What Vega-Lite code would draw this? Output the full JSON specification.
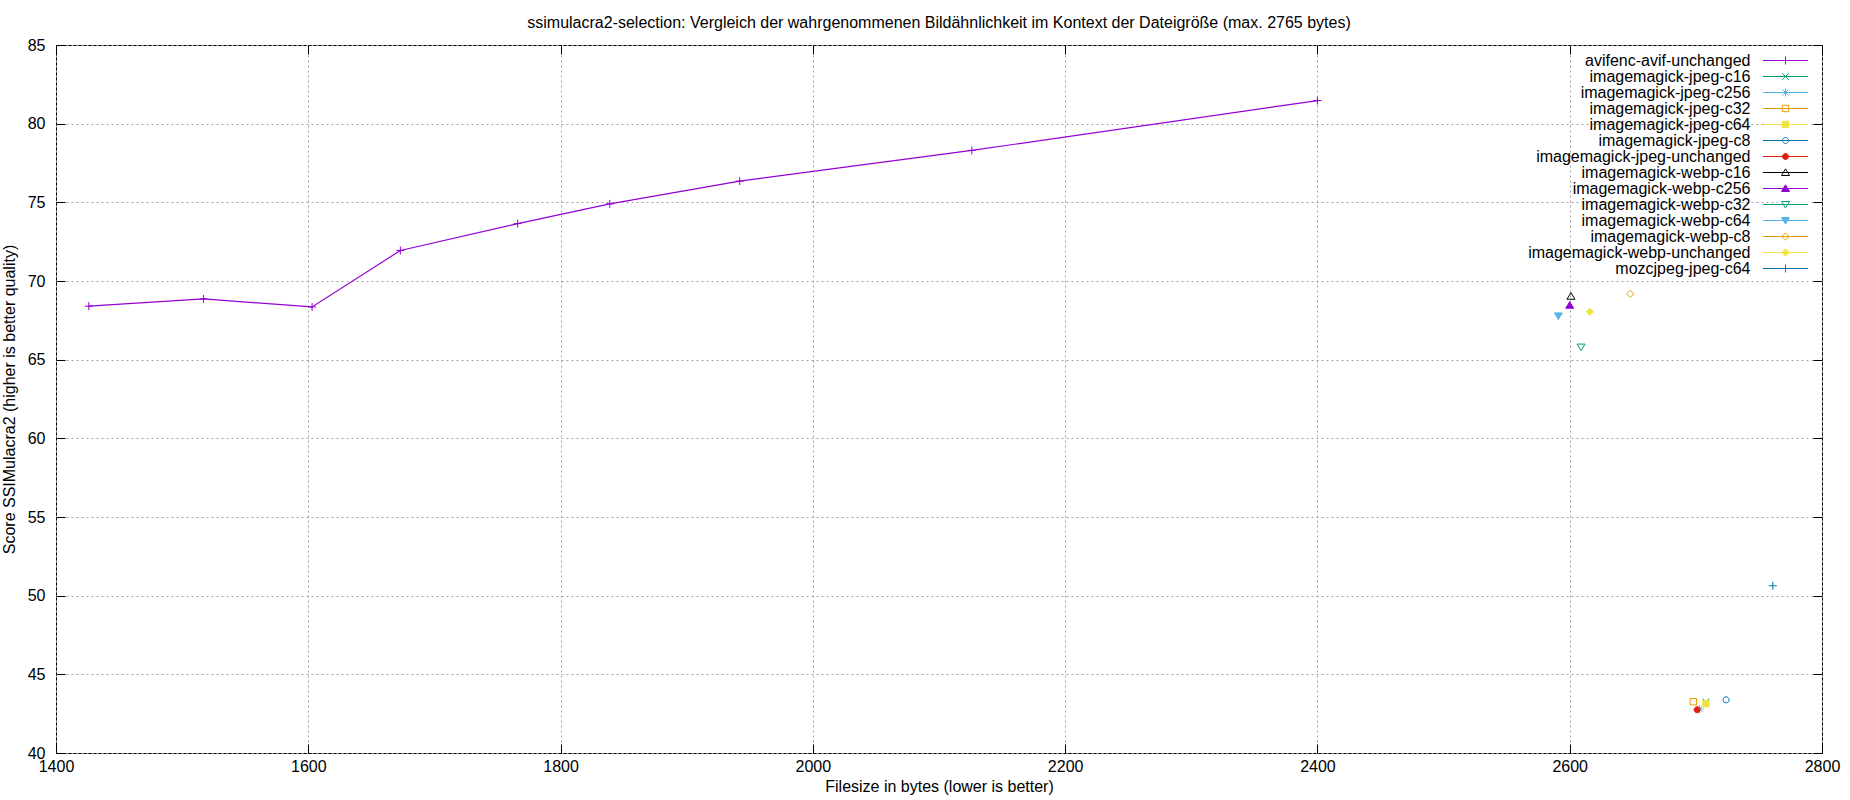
{
  "$schema": "https://vega.github.io/schema/vega-lite/v6.json",
  "width": 1766,
  "height": 708,
  "autosize": {"type": "none"},
  "padding": {"left": 56, "top": 45, "right": 28, "bottom": 47},
  "background": "white",
  "title": {
    "text": "ssimulacra2-selection: Vergleich der wahrgenommenen Bildähnlichkeit im Kontext der Dateigröße (max. 2765 bytes)",
    "font": "Liberation Sans",
    "fontSize": 16,
    "fontWeight": "normal",
    "color": "black",
    "anchor": "middle",
    "frame": "group",
    "offset": 6
  },
  "config": {
    "view": {"stroke": "black", "strokeWidth": 1},
    "font": "Liberation Sans",
    "axis": {
      "domain": false,
      "tickColor": "black",
      "tickSize": -9,
      "tickWidth": 1,
      "labelFlush": false,
      "labelFont": "Liberation Sans",
      "labelFontSize": 16,
      "labelColor": "black",
      "titleFont": "Liberation Sans",
      "titleFontSize": 16,
      "titleFontWeight": "normal",
      "titleColor": "black",
      "gridColor": "#a0a0a0",
      "gridDash": [2, 3],
      "gridWidth": 1
    }
  },
  "datasets": {
    "results": [
      {"series": "avifenc-avif-unchanged", "bytes": 1426, "score": 68.4},
      {"series": "avifenc-avif-unchanged", "bytes": 1517, "score": 68.86},
      {"series": "avifenc-avif-unchanged", "bytes": 1603, "score": 68.35},
      {"series": "avifenc-avif-unchanged", "bytes": 1673, "score": 71.94},
      {"series": "avifenc-avif-unchanged", "bytes": 1766, "score": 73.65},
      {"series": "avifenc-avif-unchanged", "bytes": 1839, "score": 74.9},
      {"series": "avifenc-avif-unchanged", "bytes": 1942, "score": 76.35},
      {"series": "avifenc-avif-unchanged", "bytes": 2126, "score": 78.3},
      {"series": "avifenc-avif-unchanged", "bytes": 2400, "score": 81.47},
      {"series": "imagemagick-jpeg-c16", "bytes": 2708, "score": 43.25},
      {"series": "imagemagick-jpeg-c256", "bytes": 2703, "score": 42.8},
      {"series": "imagemagick-jpeg-c32", "bytes": 2698, "score": 43.26},
      {"series": "imagemagick-jpeg-c64", "bytes": 2708, "score": 43.13},
      {"series": "imagemagick-jpeg-c8", "bytes": 2724, "score": 43.38},
      {"series": "imagemagick-jpeg-unchanged", "bytes": 2701, "score": 42.75},
      {"series": "imagemagick-webp-c16", "bytes": 2601, "score": 69.03},
      {"series": "imagemagick-webp-c256", "bytes": 2600, "score": 68.46},
      {"series": "imagemagick-webp-c32", "bytes": 2609, "score": 65.8},
      {"series": "imagemagick-webp-c64", "bytes": 2591, "score": 67.78},
      {"series": "imagemagick-webp-c8", "bytes": 2648, "score": 69.18},
      {"series": "imagemagick-webp-unchanged", "bytes": 2616, "score": 68.04},
      {"series": "mozcjpeg-jpeg-c64", "bytes": 2761, "score": 50.63}
    ]
  },
  "data": {"name": "results"},
  "resolve": {
    "scale": {"shape": "independent", "stroke": "independent", "fill": "independent"},
    "axis": {"x": "independent", "y": "independent"}
  },
  "layer": [
    {
      "transform": [{"filter": "datum.series === 'avifenc-avif-unchanged'"}],
      "mark": {"type": "line", "color": "#9400d3", "strokeWidth": 1.2},
      "encoding": {
        "x": {
          "field": "bytes",
          "type": "quantitative",
          "scale": {"domain": [1400, 2800], "nice": false, "zero": false},
          "axis": {
            "orient": "bottom",
            "values": [1400, 1600, 1800, 2000, 2200, 2400, 2600, 2800],
            "format": "d",
            "grid": true,
            "labelPadding": 14,
            "titlePadding": 4,
            "title": "Filesize in bytes (lower is better)"
          }
        },
        "y": {
          "field": "score",
          "type": "quantitative",
          "scale": {"domain": [40, 85], "nice": false, "zero": false},
          "axis": {
            "orient": "left",
            "values": [40, 45, 50, 55, 60, 65, 70, 75, 80, 85],
            "format": "d",
            "grid": true,
            "labelPadding": 20,
            "titlePadding": 10,
            "title": "Score SSIMulacra2 (higher is better quality)"
          }
        }
      }
    },
    {
      "mark": {"type": "point", "size": 64, "strokeWidth": 1, "opacity": 1},
      "encoding": {
        "x": {"field": "bytes", "type": "quantitative", "scale": {"domain": [1400, 2800], "nice": false, "zero": false}, "axis": null},
        "y": {"field": "score", "type": "quantitative", "scale": {"domain": [40, 85], "nice": false, "zero": false}, "axis": null},
        "shape": {
          "field": "series",
          "type": "nominal",
          "legend": null,
          "scale": {
            "domain": ["avifenc-avif-unchanged", "imagemagick-jpeg-c16", "imagemagick-jpeg-c256", "imagemagick-jpeg-c32", "imagemagick-jpeg-c64", "imagemagick-jpeg-c8", "imagemagick-jpeg-unchanged", "imagemagick-webp-c16", "imagemagick-webp-c256", "imagemagick-webp-c32", "imagemagick-webp-c64", "imagemagick-webp-c8", "imagemagick-webp-unchanged", "mozcjpeg-jpeg-c64"],
            "range": [
              "M-1,0H1M0,-1V1",
              "M-0.8,-0.8L0.8,0.8M-0.8,0.8L0.8,-0.8",
              "M-1,0H1M0,-1V1M-0.75,-0.75L0.75,0.75M-0.75,0.75L0.75,-0.75",
              "M-0.8,-0.8H0.8V0.8H-0.8Z",
              "M-0.8,-0.8H0.8V0.8H-0.8Z",
              "M-0.75,0A0.75,0.75,0,1,1,0.75,0A0.75,0.75,0,1,1,-0.75,0Z",
              "M-0.75,0A0.75,0.75,0,1,1,0.75,0A0.75,0.75,0,1,1,-0.75,0Z",
              "M0,-0.9L1,0.75H-1Z",
              "M0,-0.9L1,0.75H-1Z",
              "M0,0.9L1,-0.75H-1Z",
              "M0,0.9L1,-0.75H-1Z",
              "M0,-0.9L0.9,0L0,0.9L-0.9,0Z",
              "M0,-0.9L0.9,0L0,0.9L-0.9,0Z",
              "M-1,0H1M0,-1V1"
            ]
          }
        },
        "stroke": {
          "field": "series",
          "type": "nominal",
          "legend": null,
          "scale": {
            "domain": ["avifenc-avif-unchanged", "imagemagick-jpeg-c16", "imagemagick-jpeg-c256", "imagemagick-jpeg-c32", "imagemagick-jpeg-c64", "imagemagick-jpeg-c8", "imagemagick-jpeg-unchanged", "imagemagick-webp-c16", "imagemagick-webp-c256", "imagemagick-webp-c32", "imagemagick-webp-c64", "imagemagick-webp-c8", "imagemagick-webp-unchanged", "mozcjpeg-jpeg-c64"],
            "range": ["#9400d3", "#009e73", "#56b4e9", "#e69f00", "#f0e442", "#0072b2", "#e51e10", "#000000", "#9400d3", "#009e73", "#56b4e9", "#e69f00", "#f0e442", "#0072b2"]
          }
        },
        "fill": {
          "field": "series",
          "type": "nominal",
          "legend": null,
          "scale": {
            "domain": ["avifenc-avif-unchanged", "imagemagick-jpeg-c16", "imagemagick-jpeg-c256", "imagemagick-jpeg-c32", "imagemagick-jpeg-c64", "imagemagick-jpeg-c8", "imagemagick-jpeg-unchanged", "imagemagick-webp-c16", "imagemagick-webp-c256", "imagemagick-webp-c32", "imagemagick-webp-c64", "imagemagick-webp-c8", "imagemagick-webp-unchanged", "mozcjpeg-jpeg-c64"],
            "range": ["transparent", "transparent", "transparent", "transparent", "#f0e442", "transparent", "#e51e10", "transparent", "#9400d3", "transparent", "#56b4e9", "transparent", "#f0e442", "transparent"]
          }
        }
      }
    },
    {
      "name": "leg",
      "transform": [{"filter": "false"}],
      "mark": {"type": "point", "size": 100, "strokeWidth": 1, "filled": true, "opacity": 1},
      "encoding": {
        "x": {"field": "bytes", "type": "quantitative", "scale": {"domain": [1400, 2800], "nice": false, "zero": false}, "axis": null},
        "y": {"field": "score", "type": "quantitative", "scale": {"domain": [40, 85], "nice": false, "zero": false}, "axis": null},
        "shape": {
          "field": "series",
          "type": "nominal",
          "scale": {
            "domain": ["avifenc-avif-unchanged", "imagemagick-jpeg-c16", "imagemagick-jpeg-c256", "imagemagick-jpeg-c32", "imagemagick-jpeg-c64", "imagemagick-jpeg-c8", "imagemagick-jpeg-unchanged", "imagemagick-webp-c16", "imagemagick-webp-c256", "imagemagick-webp-c32", "imagemagick-webp-c64", "imagemagick-webp-c8", "imagemagick-webp-unchanged", "mozcjpeg-jpeg-c64"],
            "range": [
              "M-4.5,0H4.5M0,-0.8V0.8",
              "M-4.5,0H4.5M-0.64,-0.64L0.64,0.64M-0.64,0.64L0.64,-0.64",
              "M-4.5,0H4.5M0,-0.8V0.8M-0.6,-0.6L0.6,0.6M-0.6,0.6L0.6,-0.6",
              "M-4.5,0H4.5M-0.64,-0.64H0.64V0.64H-0.64Z",
              "M-4.5,0H4.5M-0.64,-0.64H0.64V0.64H-0.64Z",
              "M-4.5,0H4.5M-0.6,0A0.6,0.6,0,1,1,0.6,0A0.6,0.6,0,1,1,-0.6,0Z",
              "M-4.5,0H4.5M-0.6,0A0.6,0.6,0,1,1,0.6,0A0.6,0.6,0,1,1,-0.6,0Z",
              "M-4.5,0H4.5M0,-0.72L0.8,0.6H-0.8Z",
              "M-4.5,0H4.5M0,-0.72L0.8,0.6H-0.8Z",
              "M-4.5,0H4.5M0,0.72L0.8,-0.6H-0.8Z",
              "M-4.5,0H4.5M0,0.72L0.8,-0.6H-0.8Z",
              "M-4.5,0H4.5M0,-0.72L0.72,0L0,0.72L-0.72,0Z",
              "M-4.5,0H4.5M0,-0.72L0.72,0L0,0.72L-0.72,0Z",
              "M-4.5,0H4.5M0,-0.8V0.8"
            ]
          },
          "legend": {
            "orient": "none",
            "legendX": 1721.5,
            "legendY": 7.5,
            "title": null,
            "padding": 0,
            "rowPadding": -3,
            "symbolOffset": 0,
            "symbolSize": 100,
            "symbolStrokeWidth": 1,
            "symbolOpacity": 1,
            "labelAlign": "right",
            "labelOffset": -43,
            "labelFont": "Liberation Sans",
            "labelFontSize": 16,
            "labelColor": "black",
            "labelLimit": 0,
            "fillColor": "white"
          }
        },
        "stroke": {
          "field": "series",
          "type": "nominal",
          "scale": {
            "domain": ["avifenc-avif-unchanged", "imagemagick-jpeg-c16", "imagemagick-jpeg-c256", "imagemagick-jpeg-c32", "imagemagick-jpeg-c64", "imagemagick-jpeg-c8", "imagemagick-jpeg-unchanged", "imagemagick-webp-c16", "imagemagick-webp-c256", "imagemagick-webp-c32", "imagemagick-webp-c64", "imagemagick-webp-c8", "imagemagick-webp-unchanged", "mozcjpeg-jpeg-c64"],
            "range": ["#9400d3", "#009e73", "#56b4e9", "#e69f00", "#f0e442", "#0072b2", "#e51e10", "#000000", "#9400d3", "#009e73", "#56b4e9", "#e69f00", "#f0e442", "#0072b2"]
          }
        },
        "fill": {
          "field": "series",
          "type": "nominal",
          "scale": {
            "domain": ["avifenc-avif-unchanged", "imagemagick-jpeg-c16", "imagemagick-jpeg-c256", "imagemagick-jpeg-c32", "imagemagick-jpeg-c64", "imagemagick-jpeg-c8", "imagemagick-jpeg-unchanged", "imagemagick-webp-c16", "imagemagick-webp-c256", "imagemagick-webp-c32", "imagemagick-webp-c64", "imagemagick-webp-c8", "imagemagick-webp-unchanged", "mozcjpeg-jpeg-c64"],
            "range": ["transparent", "transparent", "transparent", "transparent", "#f0e442", "transparent", "#e51e10", "transparent", "#9400d3", "transparent", "#56b4e9", "transparent", "#f0e442", "transparent"]
          }
        }
      }
    },
    {
      "mark": {"type": "point", "opacity": 0},
      "encoding": {
        "x": {
          "field": "bytes",
          "type": "quantitative",
          "scale": {"domain": [1400, 2800], "nice": false, "zero": false},
          "axis": {"orient": "top", "values": [1400, 1600, 1800, 2000, 2200, 2400, 2600, 2800], "labels": false, "grid": false, "title": null}
        },
        "y": {
          "field": "score",
          "type": "quantitative",
          "scale": {"domain": [40, 85], "nice": false, "zero": false},
          "axis": {"orient": "right", "values": [40, 45, 50, 55, 60, 65, 70, 75, 80, 85], "labels": false, "grid": false, "title": null}
        }
      }
    }
  ]
}
